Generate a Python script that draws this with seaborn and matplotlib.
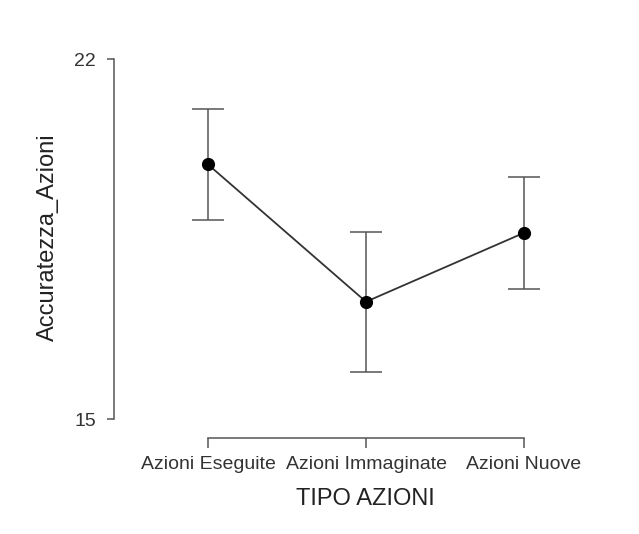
import matplotlib
matplotlib.use("Agg")
import matplotlib.pyplot as plt
import seaborn as sns
import pandas as pd

categories = ["Azioni Eseguite", "Azioni Immaginate", "Azioni Nuove"]
means = [19.95, 17.28, 18.62]
errors = [1.08, 1.36, 1.09]
y_ticks = [15, 22]
x_label = "TIPO AZIONI"
y_label = "Accuratezza_Azioni"

sns.set_style("white")
plt.rcParams["font.family"] = ["Liberation Sans", "DejaVu Sans"]

df = pd.DataFrame({"cat": categories, "val": means})

fig = plt.figure(figsize=(6.39, 5.34), dpi=100)
ax = fig.add_axes([114/639, (534-438)/534, (580-114)/639, (438-59)/534])

sns.pointplot(data=df, x="cat", y="val", order=categories, color="black",
              errorbar=None, markers="o", linestyles="-", ax=ax,
              markersize=8.5, linewidth=1.3)
for l in ax.lines:
    l.set_color("#333333")
    l.set_markerfacecolor("black")
    l.set_markeredgecolor("black")
ax.errorbar(range(len(categories)), means, yerr=errors, fmt="none",
            ecolor="#555555", elinewidth=1.1, capsize=11.5, capthick=1.1, zorder=1)

ax.set_xlim(-(208-114)/158, (580-208)/158)
ax.set_ylim(15 - (438-419)/51.43, 22)

for s in ["top", "right"]:
    ax.spines[s].set_visible(False)
ax.spines["left"].set_bounds(15, 22)
ax.spines["bottom"].set_bounds(0, 2)
for s in ["left", "bottom"]:
    ax.spines[s].set_color("#555555")
    ax.spines[s].set_linewidth(1.1)

ax.set_yticks(y_ticks)
ax.set_yticklabels([str(t) for t in y_ticks])
ax.set_xticks(range(len(categories)))
ax.set_xticklabels(categories)
ax.tick_params(axis="y", direction="out", length=5, width=1.1, color="#555555",
               pad=8, labelsize=14, labelcolor="#333333", left=True)
ax.tick_params(axis="x", direction="out", length=7, width=1.1, color="#555555",
               pad=6, labelsize=14, labelcolor="#333333", bottom=True)

ax.set_xlabel(x_label, fontsize=17, color="#222222")
ax.set_ylabel(y_label, fontsize=17, color="#222222")
ax.xaxis.set_label_coords((365-114)/466, -(488-438)/379)
ax.yaxis.set_label_coords((59-114)/466, (438-237)/379)
ax.grid(False)

fig.savefig("out.png", dpi=100)
